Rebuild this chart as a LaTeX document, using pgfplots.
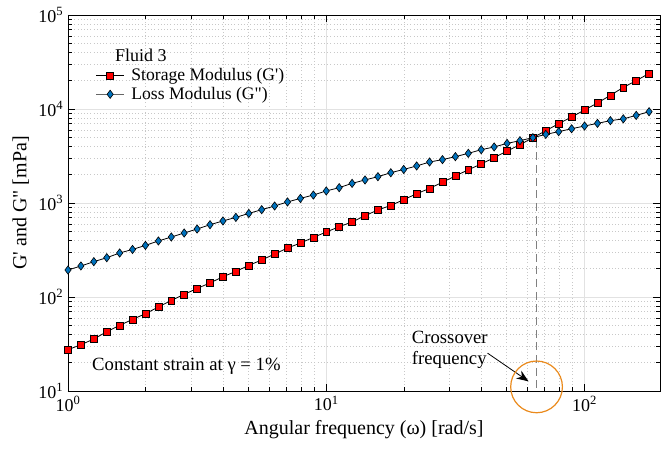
\documentclass[border=0pt]{standalone}
\usepackage{fontspec}
\setmainfont{Liberation Serif}[Ligatures=TeXOff]
\usepackage{pgfplots}
\pgfplotsset{compat=1.18}
\usepackage{pgfplotstable}
\usetikzlibrary{arrows.meta}

\definecolor{gred}{RGB}{255,0,0}
\definecolor{gblue}{RGB}{0,114,189}
\definecolor{ringorange}{RGB}{234,138,28}
\definecolor{majgrid}{RGB}{226,226,226}
\definecolor{mingrid}{RGB}{200,200,200}

% Storage modulus G' [mPa] vs angular frequency [rad/s]
\pgfplotstableread{
w      G
1      27.5
1.122  31.1
1.259  35.7
1.413  42.8
1.585  49.9
1.778  57.8
1.995  66.4
2.239  78.3
2.512  92.0
2.818  106.7
3.162  123.3
3.548  141.0
3.981  164.4
4.467  187.1
5.012  216.8
5.623  247.7
6.310  286.4
7.079  331.9
7.943  375.0
8.913  430.5
10     490.9
11.22  559.8
12.59  628.1
14.13  732.8
15.85  843.3
17.78  941.9
19.95  1084
22.39  1256
25.12  1429
28.18  1665
31.62  1936
35.48  2259
39.81  2600
44.67  3034
50.12  3573
56.23  4169
63.10  4955
70.79  5875
79.43  6982
89.13  8222
100    9750
112.2  11590
125.9  13960
141.3  16980
158.5  20000
177.8  23930
}\storage

% Loss modulus G'' [mPa] vs angular frequency [rad/s]
\pgfplotstableread{
w      G
1      193.6
1.122  213.8
1.259  237.7
1.413  261.8
1.585  293.8
1.778  320.6
1.995  354.0
2.239  394.5
2.512  434.5
2.818  479.7
3.162  528.4
3.548  587.5
3.981  644.2
4.467  703.1
5.012  774.5
5.623  849.2
6.310  929.0
7.079  1026
7.943  1119
8.913  1216
10     1343
11.22  1455
12.59  1618
14.13  1758
15.85  1905
17.78  2099
19.95  2275
22.39  2477
25.12  2729
28.18  2891
31.62  3112
35.48  3373
39.81  3690
44.67  3945
50.12  4305
56.23  4603
63.10  4955
70.79  5370
79.43  5741
89.13  6166
100    6592
112.2  7031
125.9  7516
141.3  7852
158.5  8551
177.8  9354
}\loss

\begin{document}
\begin{tikzpicture}
\begin{axis}[
  scale only axis,
  width=444pt, height=282pt,
  xmode=log, ymode=log,
  xmin=1, xmax=196, ymin=10, ymax=1e5,
  xtick={1,10,100},
  xticklabels={10\textsuperscript{0},10\textsuperscript{1},10\textsuperscript{2}},
  ytick={10,100,1000,10000,100000},
  yticklabels={10\textsuperscript{1},10\textsuperscript{2},10\textsuperscript{3},10\textsuperscript{4},10\textsuperscript{5}},
  tick align=inside,
  major tick length=5pt, minor tick length=3pt,
  tick style={black, line width=0.5pt},
  axis line style={black, line width=0.6pt},
  grid=both,
  major grid style={majgrid, line width=0.5pt},
  minor grid style={mingrid, dotted, line width=0.5pt},
  xlabel={Angular frequency (ω) [rad/s]},
  ylabel={G' and G" [mPa]},
  label style={font=\fontsize{15}{15}\selectfont},
  tick label style={font=\fontsize{13.5}{14}\selectfont},
  clip=false,
  legend cell align=left,
  legend style={at={(0.046,0.866)}, anchor=north west, draw=none, fill=none,
    font=\fontsize{13.2}{14.5}\selectfont, row sep=-0.5pt, inner sep=0pt,
    /tikz/every odd column/.append style={column sep=3pt},
    /tikz/every even column/.append style={column sep=0pt}},
  legend image code/.code={%
    \draw[mark repeat=2,mark phase=2] plot coordinates {(0cm,0cm) (0.37cm,0cm) (0.74cm,0cm)};},
]
% crossover marker line
\addplot[forget plot, color=gray, dash pattern=on 6pt off 3.5pt, line width=0.8pt]
  coordinates {(65.2,4700) (65.2,10)};

\addplot[black, line width=0.6pt, mark=square*,
  mark options={fill=gred, draw=black, line width=0.45pt, mark size=2.6pt, solid}]
  table[x=w, y=G] {\storage};
\addlegendentry{Storage Modulus (G')}

\addplot[black, line width=0.6pt, mark=diamond*,
  mark options={fill=gblue, draw=black, line width=0.45pt, mark size=3.1pt, solid},
  legend image code/.code={%
    \draw[gray!80!black, line width=0.9pt] (0cm,0cm) -- (0.74cm,0cm);
    \draw[mark repeat=2,mark phase=2, draw=none] plot coordinates {(0cm,0cm) (0.37cm,0cm) (0.74cm,0cm)};}]
  table[x=w, y=G] {\loss};
\addlegendentry{Loss Modulus (G")}

\node[anchor=west, font=\fontsize{13.5}{15}\selectfont, inner sep=0pt]
  at (rel axis cs:0.079,0.894) {Fluid 3};
\node[anchor=west, font=\fontsize{14}{15}\selectfont, inner sep=0pt]
  at (rel axis cs:0.0405,0.0665) {Constant strain at γ = 1\%};
\node[anchor=north west, align=left, font=\fontsize{14}{16}\selectfont, inner sep=0pt]
  at (rel axis cs:0.5806,0.160) {Crossover\\frequency};
\draw[-{Stealth[length=9pt,width=7pt]}, line width=0.6pt]
  (axis cs:42.1,25.3) -- (axis cs:60.7,12.66);
\draw[ringorange, line width=0.9pt] (axis cs:65.2,11.06) circle[radius=19.4pt];

\coordinate (sw) at (rel axis cs:0,0);
\coordinate (ne) at (rel axis cs:1,1);
\end{axis}
\pgfresetboundingbox
\useasboundingbox ([shift={(-51pt,-43.5pt)}]sw) rectangle ([shift={(0.75pt,11.25pt)}]ne);
\end{tikzpicture}
\end{document}
